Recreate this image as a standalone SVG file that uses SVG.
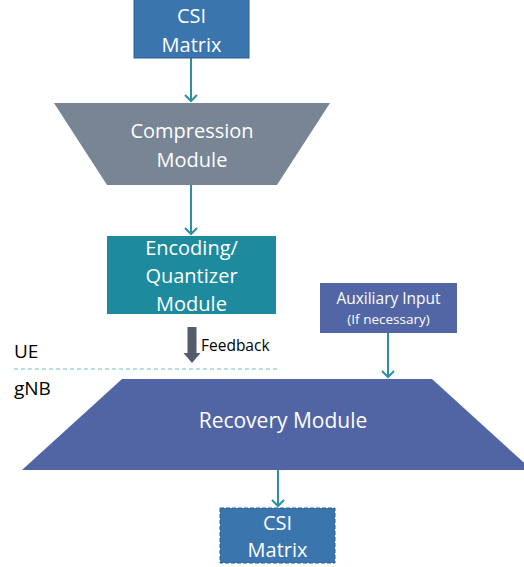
<svg xmlns="http://www.w3.org/2000/svg" width="524" height="567" viewBox="0 0 524 567">
<defs>
<style>
.t{font-family:"Open Sans","Noto Sans",sans-serif;fill:#ffffff;text-anchor:middle}
.k{font-family:"Open Sans","Noto Sans",sans-serif;fill:#000000}
.c{stroke:#2a8fa0;stroke-width:2;fill:none}
</style>
</defs>
<rect width="524" height="567" fill="#ffffff"/>
<g id="connectors">
<line class="c" x1="191" y1="58" x2="191" y2="101"/>
<path d="M185,95 L191,101 L197,95" class="c"/>
<line class="c" x1="191" y1="185" x2="191" y2="234"/>
<path d="M185,228 L191,234 L197,228" class="c"/>
<line class="c" x1="388" y1="333" x2="388" y2="377"/>
<path d="M382,371 L388,377 L394,371" class="c"/>
<line class="c" x1="278" y1="470" x2="278" y2="506"/>
<path d="M272,500 L278,506 L284,500" class="c"/>
<path d="M187.5,327 H196.5 V353 H200.5 L192,363 L183.5,353 H187.5 Z" fill="#535c6b"/>
<text class="k" x="201" y="351" font-size="15.5">Feedback</text>
<line x1="14" y1="369" x2="280" y2="369" stroke="#9ed8ce" stroke-width="1.5" stroke-dasharray="4 3"/>
</g>
<g id="csi_top">
<rect x="134" y="-1" width="115" height="59" fill="#3b75ae" stroke="#2e5e8e" stroke-width="1"/>
<text class="t" x="191.5" y="23" font-size="20">CSI</text>
<text class="t" x="191.5" y="52" font-size="20">Matrix</text>
</g>
<g id="compression">
<polygon points="54,103 330,103 277,185 107,185" fill="#788595"/>
<text class="t" x="192" y="138" font-size="20">Compression</text>
<text class="t" x="192" y="167" font-size="20">Module</text>
</g>
<g id="encoding">
<rect x="107" y="236" width="169" height="78" fill="#1e8a9e"/>
<text class="t" x="191.5" y="255" font-size="20">Encoding/</text>
<text class="t" x="191.5" y="283" font-size="20">Quantizer</text>
<text class="t" x="191.5" y="311" font-size="20">Module</text>
</g>
<g id="labels">
<text class="k" x="14" y="358" font-size="19">UE</text>
<text class="k" x="14" y="395" font-size="19">gNB</text>
</g>
<g id="auxiliary">
<rect x="320" y="283" width="137" height="50" fill="#5266a6"/>
<text class="t" x="388.5" y="304" font-size="15.5">Auxiliary Input</text>
<text class="t" x="388.5" y="324" font-size="13.5">(If necessary)</text>
</g>
<g id="recovery">
<polygon points="122,379 432,379 532,470 22,470" fill="#5165a5"/>
<text class="t" x="283" y="428" font-size="21">Recovery Module</text>
</g>
<g id="csi_bottom">
<rect x="220" y="508" width="115" height="55" fill="#3b75ae" stroke="#2e5e8e" stroke-width="1" stroke-dasharray="4 2"/>
<text class="t" x="277.5" y="530" font-size="20">CSI</text>
<text class="t" x="277.5" y="557" font-size="20">Matrix</text>
</g>
</svg>
